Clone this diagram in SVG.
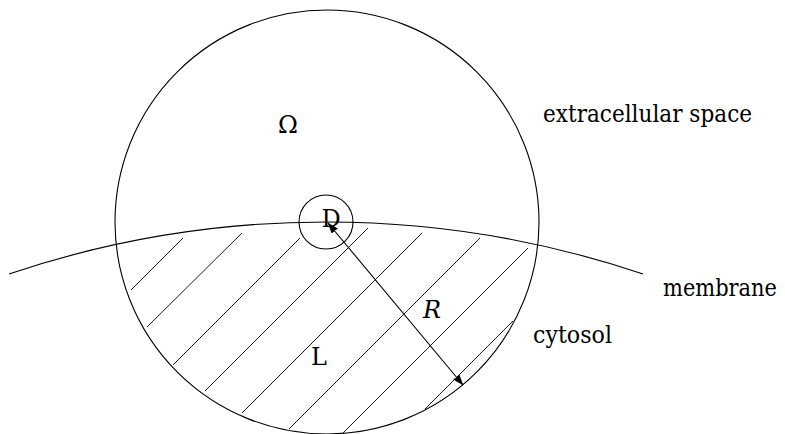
<svg xmlns="http://www.w3.org/2000/svg" width="785" height="434" viewBox="0 0 785 434">
  <style>
    .ln { fill: none; stroke: #000; stroke-width: 1.1; }
    .hatch { fill: none; stroke: #1a1a1a; stroke-width: 1; }
    .lbl { font-family: "DejaVu Serif", serif; font-size: 24px; fill: #000; }
    .it { font-style: italic; }
  </style>
  <defs>
    <marker id="ah" viewBox="0 0 11 8" refX="10.5" refY="4" markerWidth="11" markerHeight="8" markerUnits="userSpaceOnUse" orient="auto-start-reverse">
      <path d="M0,0 L11,4 L0,8 z" fill="#000"/>
    </marker>
  </defs>
  <rect width="785" height="434" fill="#fff"/>

  <g id="omega-region">
    <circle class="ln" cx="327" cy="222" r="212"/>
  </g>

  <g id="cytosol-hatch">
    <line class="hatch" x1="131" y1="290" x2="183" y2="238"/>
    <line class="hatch" x1="147" y1="327" x2="242" y2="233"/>
    <line class="hatch" x1="173" y1="365" x2="300" y2="238"/>
    <line class="hatch" x1="205" y1="391" x2="368" y2="228"/>
    <line class="hatch" x1="242" y1="413" x2="422" y2="233"/>
    <line class="hatch" x1="289" y1="429" x2="480" y2="238"/>
    <line class="hatch" x1="343" y1="433" x2="528" y2="248"/>
    <line class="hatch" x1="425" y1="409" x2="513" y2="321"/>
  </g>

  <g id="membrane">
    <path class="ln" d="M9,274 A992,992 0 0 1 643,274"/>
  </g>

  <g id="D-node">
    <circle class="ln" cx="326" cy="222" r="27"/>
    <text class="lbl" x="331" y="227" text-anchor="middle">D</text>
  </g>

  <g id="connectors">
    <line class="ln" x1="328" y1="223" x2="463" y2="385" marker-start="url(#ah)" marker-end="url(#ah)"/>
  </g>

  <g id="labels">
    <text class="lbl" x="288" y="133" text-anchor="middle">Ω</text>
    <text class="lbl" x="543" y="122" textLength="209" lengthAdjust="spacingAndGlyphs">extracellular space</text>
    <text class="lbl" x="663" y="296" font-size="20" textLength="114" lengthAdjust="spacingAndGlyphs">membrane</text>
    <text class="lbl" x="533" y="343" textLength="79" lengthAdjust="spacingAndGlyphs">cytosol</text>
    <text class="lbl" x="319" y="365" text-anchor="middle">L</text>
    <text class="lbl it" x="432" y="318" text-anchor="middle">R</text>
  </g>
</svg>
